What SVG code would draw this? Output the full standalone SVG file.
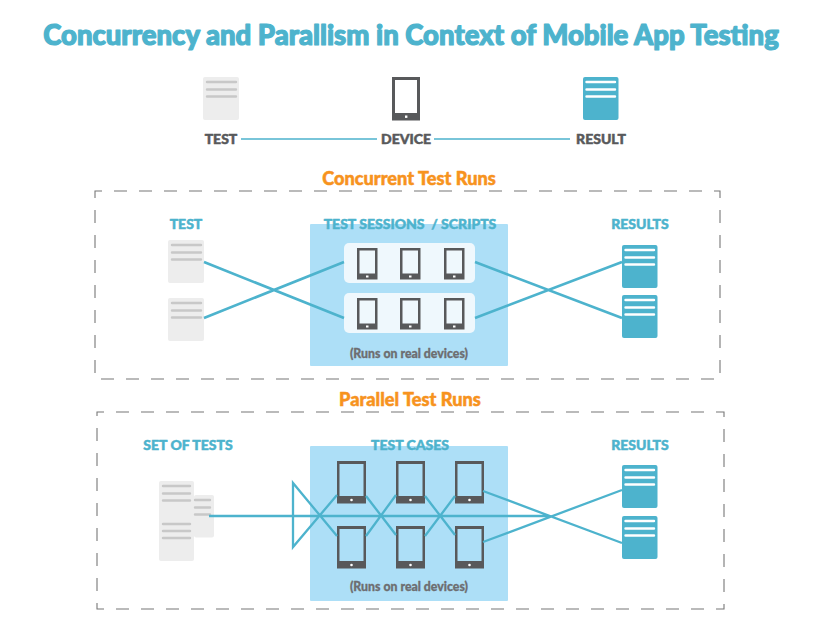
<svg xmlns="http://www.w3.org/2000/svg" width="820" height="628" viewBox="0 0 820 628">
<style>
text{font-family:Lato,"Open Sans","Liberation Sans",sans-serif;font-weight:900;text-anchor:middle;white-space:pre;stroke-linejoin:round}
.title{font-size:27.500px;fill:#4db3cd;stroke:#4db3cd;stroke-width:1.200px}
.h{font-size:18.200px;fill:#f7931e;stroke:#f7931e;stroke-width:.5px}
.l{font-size:14px;fill:#4db3cd;stroke:#4db3cd;stroke-width:.5px}
.k{font-size:14px;fill:#58595b;stroke:#58595b;stroke-width:.5px}
.r{font-size:12.300px;fill:#6d6e71;stroke:#6d6e71;stroke-width:.3px}
.dash{fill:none;stroke:#777;stroke-width:1.100;stroke-dasharray:13 12;stroke-dashoffset:6}
.panel{fill:#addff7}
.row{fill:#eff8fd}
.doc{fill:#ededed}
.dl{stroke:#c8c8c8;stroke-width:2.400;stroke-linecap:round}
.res{fill:#4db3cd}
.rl{stroke:#fff;stroke-width:2.400;stroke-linecap:round}
.c1{stroke:#4db3cd;fill:none;stroke-width:1.600}
.c{stroke:#4db3cd;fill:none;stroke-width:2.300}
.c3{stroke:#4db3cd;fill:none;stroke-width:2.600}
.t{fill:#58595b}
</style>
<defs>
<g id="doc"><rect class="doc" width="36" height="43" rx="2"/><path class="dl" d="M4 5H33M4 12.500H33M4 19.500H33"/></g>
<g id="res"><rect class="res" width="35.500" height="43" rx="2"/><path class="rl" d="M3.500 5H32M3.500 12.500H32M3.500 19.500H32"/></g>
<g id="ts"><rect class="t" width="20.500" height="31.500"/><rect x="2.500" y="2.500" width="15.500" height="23" fill="#eff8fd"/><rect x="9" y="27.500" width="2.500" height="2" fill="#fff"/></g>
<g id="tb"><rect class="t" width="29" height="42.500"/><rect x="2.500" y="3" width="24" height="32" fill="#addff7"/><circle cx="14.500" cy="39" r="1.300" fill="#fff"/></g>
</defs>
<text class="title" x="411" y="45">Concurrency and Parallism in Context of Mobile App Testing</text>

<g id="legend-test"><use href="#doc" x="203" y="77"/><text class="k" x="221" y="144">TEST</text></g>
<g id="legend-device"><rect class="t" x="392" y="77" width="28" height="43.500"/><rect x="395" y="80" width="22" height="33" fill="#fff"/><rect x="405" y="115.500" width="2.400" height="2.400" fill="#fff"/><text class="k" x="406" y="144">DEVICE</text></g>
<g id="legend-result"><use href="#res" x="583" y="77"/><text class="k" x="601" y="144">RESULT</text></g>

<text class="h" x="409" y="185">Concurrent Test Runs</text>
<rect class="dash" x="95" y="191" width="625" height="188"/>
<text class="h" x="410" y="406">Parallel Test Runs</text>
<rect class="dash" x="97" y="412" width="627" height="197"/>

<g id="panel-concurrent"><rect class="panel" x="310" y="224" width="198" height="142" rx="1"/><rect class="row" x="344" y="243" width="131" height="40" rx="5"/><rect class="row" x="344" y="293" width="131" height="40" rx="5"/><text class="l" x="410" y="229">TEST SESSIONS  / SCRIPTS</text><text class="r" x="409" y="358">(Runs on real devices)</text></g>
<g id="panel-parallel"><rect class="panel" x="310" y="446" width="198" height="155" rx="1"/><text class="l" x="410" y="450">TEST CASES</text><text class="r" x="409" y="591">(Runs on real devices)</text></g>

<g id="c-test-1"><use href="#doc" x="168" y="240"/></g>
<g id="c-test-2"><use href="#doc" x="168" y="298"/></g>
<text class="l" x="186" y="229">TEST</text>
<text class="l" x="640" y="229">RESULTS</text>
<g id="c-res-1"><use href="#res" x="622" y="245"/></g>
<g id="c-res-2"><use href="#res" x="622" y="295"/></g>
<g id="c-dev"><use href="#ts" x="357" y="248"/><use href="#ts" x="400" y="248"/><use href="#ts" x="444" y="248"/><use href="#ts" x="357" y="298"/><use href="#ts" x="400" y="298"/><use href="#ts" x="444" y="298"/></g>

<text class="l" x="188" y="450">SET OF TESTS</text>
<text class="l" x="640" y="450">RESULTS</text>
<g id="p-tests"><rect class="doc" x="194" y="495" width="20" height="42.500" rx="2"/><rect class="doc" x="159" y="481" width="35" height="80" rx="2"/><path class="dl" d="M163 486H190M163 493.500H190M163 500.500H190M163 524H190M163 531H190M163 538H190M195 500H210M195 507.500H210M195 514.500H210"/></g>
<g id="p-dev"><use href="#tb" x="337" y="461"/><use href="#tb" x="396" y="461"/><use href="#tb" x="455" y="461"/><use href="#tb" x="337" y="526"/><use href="#tb" x="396" y="526"/><use href="#tb" x="455" y="526"/></g>
<g id="p-res-1"><use href="#res" x="622" y="465"/></g>
<g id="p-res-2"><use href="#res" x="622" y="516"/></g>

<g id="connectors">
<path class="c1" d="M241 139H377M434 139H570"/>
<path class="c3" d="M204 262L344 318M204 318L344 262M475 262L622 318M475 318L622 262"/>
<path class="c" d="M209 516H550M337 495L293 547V483L337 536M366 496L396 535M366 536L396 495M425 496L455 535M425 536L455 496M483 491L622 543M483 542L622 490"/>
</g>
</svg>
